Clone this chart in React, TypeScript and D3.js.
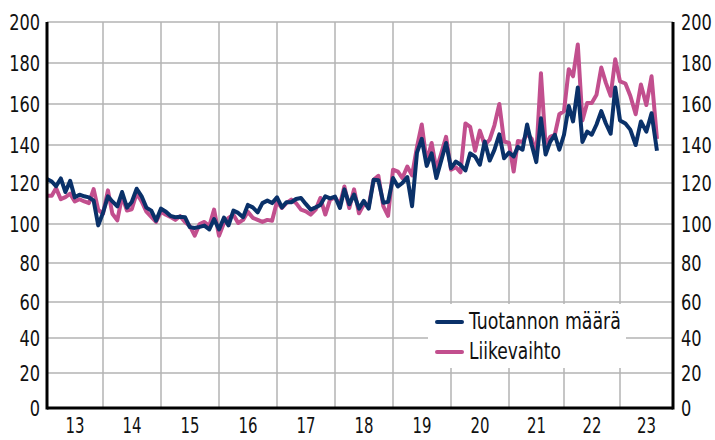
import React, { useEffect, useRef } from "react";
import * as d3 from "d3";

// monthly index, Jan 2013 - Aug 2023
const tuotannonMaara = [
  122.1, 120.8, 118.4, 122.4, 115.6, 121.1, 113.0, 114.3, 113.5, 113.0, 111.4, 99.3,
  105.5, 113.5, 111.0, 108.6, 115.6, 108.0, 110.7, 117.2, 113.5, 108.0, 106.5, 101.6,
  107.5, 106.0, 104.0, 103.3, 103.5, 103.3, 98.4, 98.0, 98.5, 99.2, 97.2, 102.4,
  97.2, 103.1, 99.3, 106.5, 105.4, 103.3, 109.3, 108.1, 105.7, 110.2, 111.4, 110.2,
  113.0, 108.1, 110.6, 110.6, 112.2, 112.7, 109.8, 107.0, 108.1, 109.3, 113.5, 112.5,
  113.4, 107.8, 116.9, 109.6, 114.4, 107.5, 111.3, 107.5, 121.7, 121.4, 110.4, 110.8,
  122.6, 118.3, 120.0, 123.1, 108.7, 136.0, 143.0, 129.0, 135.6, 122.6, 132.0, 141.0,
  127.8, 131.3, 129.6, 126.6, 135.6, 133.9, 129.6, 141.7, 131.8, 137.4, 145.2, 133.0,
  136.0, 134.0, 139.0, 137.5, 150.0, 140.0, 131.0, 153.0, 135.0, 141.5, 145.0, 137.5,
  145.0, 159.0, 151.5, 168.0, 141.5, 146.5, 145.0, 150.0, 156.5, 150.5, 145.5, 168.0,
  152.0, 150.5, 147.5, 140.0, 151.5, 146.5, 155.5, 137.0,
];

const liikevaihto = [
  113.8, 113.8, 117.5, 112.1, 113.1, 114.8, 111.0, 112.1, 111.0, 110.2, 117.0, 106.9,
  105.0, 116.4, 105.0, 101.8, 113.5, 106.6, 107.2, 115.0, 111.0, 106.0, 103.5, 101.0,
  106.0, 104.5, 103.5, 102.0, 103.8, 101.0, 99.0, 94.0, 100.0, 101.0, 99.0, 107.0,
  94.0, 100.5, 103.0, 104.5, 100.5, 102.0, 106.0, 103.0, 102.0, 101.0, 102.0, 101.6,
  111.0, 107.8, 110.2, 111.9, 110.2, 107.0, 106.2, 104.6, 107.0, 112.7, 104.6, 111.9,
  113.0, 109.6, 118.3, 107.8, 116.9, 105.2, 109.6, 108.7, 121.7, 123.8, 108.7, 104.0,
  127.0, 126.0, 122.6, 128.7, 124.0, 139.0, 150.0, 131.0, 141.0, 127.0, 135.6, 144.0,
  127.0, 128.3, 125.6, 150.5, 148.8, 137.0, 147.0, 140.0, 142.6, 149.6, 160.0, 141.7,
  141.0, 126.0, 142.0, 141.5, 145.5, 143.0, 135.0, 175.0, 139.5, 144.0, 145.0, 155.0,
  156.5, 177.0, 173.5, 189.0, 152.0, 160.5, 160.5, 164.5, 177.8, 170.3, 164.0, 181.8,
  171.0, 170.0, 164.0, 155.0, 169.5, 159.5, 173.5, 143.0,
];

const years = [2013, 2014, 2015, 2016, 2017, 2018, 2019, 2020, 2021, 2022, 2023];
const yTicks = [0, 20, 40, 60, 80, 100, 120, 140, 160, 180, 200];
const seriesNames = ["Tuotannon määrä", "Liikevaihto"];

const NAVY = "#0a3169";
const PINK = "#c24f8e";
const FONT = "'DejaVu Sans Condensed', 'DejaVu Sans', sans-serif";

const width = 715;
const height = 440;

// squeeze a text horizontally to a given width (the reference uses a condensed face)
function fit(sel, px, py, w) {
  sel.each(function (d, i) {
    const node = this;
    const nat = node.getComputedTextLength() || 1;
    const tw = typeof w === "function" ? w(d, i) : w;
    const tx = typeof px === "function" ? px(d, i) : px;
    const ty = typeof py === "function" ? py(d, i) : py;
    d3.select(node).attr("transform", `translate(${tx},${ty}) scale(${tw / nat},1)`);
  });
}

export default function App() {
  const svgRef = useRef(null);

  useEffect(() => {
    const svg = d3.select(svgRef.current);
    svg.selectAll("*").remove();

    const axisEnd = new Date(2023, 10, 1);
    const x = d3
      .scaleTime()
      .domain([...years.map((y) => new Date(y, 0, 1)), axisEnd])
      .range([47, 103, 161, 219, 277, 335, 393, 451, 509, 564, 620, 673]);
    const y = d3
      .scaleLinear()
      .domain(yTicks)
      .range([408, 373, 338, 302, 263, 224, 183, 145, 104, 63, 22]);

    const date = (i) => new Date(2013, i, 1);
    const x0 = x(new Date(years[0], 0, 1));
    const x1 = x(axisEnd);

    // grid
    const grid = svg.append("g").attr("stroke", "#b3b3b3").attr("stroke-width", 1.5);
    grid
      .selectAll("line.h")
      .data(yTicks.slice(1))
      .join("line")
      .attr("x1", x0)
      .attr("x2", x1)
      .attr("y1", (d) => y(d))
      .attr("y2", (d) => y(d));
    grid
      .selectAll("line.v")
      .data(years.slice(1))
      .join("line")
      .attr("x1", (d) => x(new Date(d, 0, 1)))
      .attr("x2", (d) => x(new Date(d, 0, 1)))
      .attr("y1", y(0))
      .attr("y2", y(200));

    // series, navy on top
    const line = d3
      .line()
      .x((d, i) => x(date(i)))
      .y((d) => y(d));
    [
      [liikevaihto, PINK],
      [tuotannonMaara, NAVY],
    ].forEach(([vals, col]) => {
      svg
        .append("path")
        .datum(vals)
        .attr("fill", "none")
        .attr("stroke", col)
        .attr("stroke-width", 4)
        .attr("stroke-linejoin", "round")
        .attr("d", line);
    });

    // frame
    const frame = svg.append("g").attr("stroke", "#000").attr("stroke-width", 3);
    frame.append("line").attr("x1", x0).attr("x2", x0).attr("y1", y(200)).attr("y2", y(0) + 1.5);
    frame.append("line").attr("x1", x1).attr("x2", x1).attr("y1", y(200)).attr("y2", y(0) + 1.5);
    frame.append("line").attr("x1", x0).attr("x2", x1).attr("y1", y(0)).attr("y2", y(0));

    const lab = svg
      .append("g")
      .attr("font-family", FONT)
      .attr("font-size", 21.5)
      .attr("fill", "#111");
    const digitW = 10.3;
    const tickW = (d) => String(d).length * digitW;

    const left = lab
      .selectAll("text.l")
      .data(yTicks)
      .join("text")
      .attr("dy", "0.36em")
      .attr("text-anchor", "end")
      .text((d) => d);
    fit(left, x0 - 7, (d) => y(d), tickW);

    const right = lab
      .selectAll("text.r")
      .data(yTicks)
      .join("text")
      .attr("class", "r")
      .attr("dy", "0.36em")
      .text((d) => d);
    fit(right, x1 + 8, (d) => y(d), tickW);

    const yrs = lab
      .selectAll("text.yr")
      .data(years)
      .join("text")
      .attr("class", "yr")
      .attr("text-anchor", "middle")
      .text((d) => String(d).slice(2));
    fit(
      yrs,
      (d) => {
        const a = x(new Date(d, 0, 1));
        const b = x(d3.min([new Date(d + 1, 0, 1), axisEnd]));
        return (a + b) / 2;
      },
      433,
      19
    );

    // legend
    const lg = svg.append("g");
    lg.append("rect")
      .attr("x", 428)
      .attr("y", 304)
      .attr("width", 198)
      .attr("height", 64)
      .attr("fill", "#fff");
    const legendW = [152, 92];
    [NAVY, PINK].forEach((col, i) => {
      lg.append("line")
        .attr("x1", 437)
        .attr("x2", 462)
        .attr("y1", 322 + i * 30)
        .attr("y2", 322 + i * 30)
        .attr("stroke", col)
        .attr("stroke-width", 4)
        .attr("stroke-linecap", "round");
      const t = lg
        .append("text")
        .attr("font-family", FONT)
        .attr("font-size", 23)
        .attr("fill", "#111")
        .text(seriesNames[i]);
      fit(t, 469, 329 + i * 30, legendW[i]);
    });
  }, []);

  return (
    <svg
      ref={svgRef}
      width={width}
      height={height}
      style={{ position: "absolute", left: 0, top: 0, background: "#fff" }}
    />
  );
}
